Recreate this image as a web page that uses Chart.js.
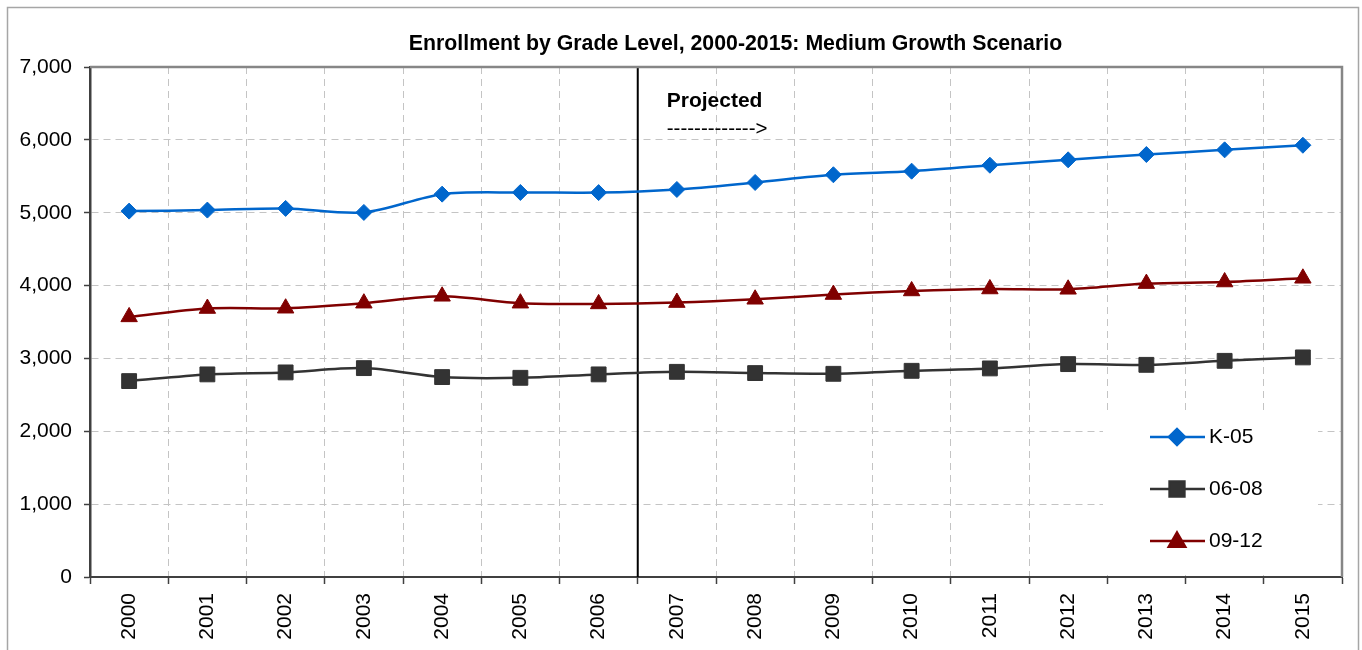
<!DOCTYPE html>
<html>
<head>
<meta charset="utf-8">
<script src="https://cdn.jsdelivr.net/npm/chart.js@4/dist/chart.umd.min.js"></script>
<style>
  html, body { margin: 0; padding: 0; background: #fff; }
  canvas { display: block; }
</style>
</head>
<body>
<canvas id="c" width="1362" height="650"></canvas>
<script>
const categories = ['2000','2001','2002','2003','2004','2005','2006','2007','2008','2009','2010','2011','2012','2013','2014','2015'];
const k05   = [5022, 5036, 5059, 5004, 5255, 5278, 5276, 5319, 5415, 5521, 5570, 5652, 5726, 5799, 5863, 5926];
const g0608 = [2689, 2781, 2808, 2867, 2744, 2734, 2781, 2816, 2799, 2789, 2830, 2863, 2922, 2912, 2967, 3014];
const g0912 = [3570, 3685, 3689, 3758, 3853, 3758, 3748, 3767, 3812, 3877, 3926, 3953, 3949, 4027, 4049, 4100];
const seriesLabels = ['K-05', '06-08', '09-12'];
const yTicks = [0, 1000, 2000, 3000, 4000, 5000, 6000, 7000];
const titleText = 'Enrollment by Grade Level, 2000-2015: Medium Growth Scenario';
const projectedText = 'Projected';
const arrowText = '------------->';
const projectionStartIndex = 7; // first projected year (2007)

const FONT = '"Liberation Sans", Arial, sans-serif';
Chart.defaults.font.family = FONT;
Chart.defaults.color = '#000';

const decorPlugin = {
  id: 'decor',
  beforeDatasetsDraw(chart) {
    const ctx = chart.ctx, a = chart.chartArea, x = chart.scales.x;
    ctx.save();
    // legend background (covers grid)
    ctx.fillStyle = '#fff';
    ctx.fillRect(1103, 414, 215, 161);
    // projection divider
    const px = (x.getPixelForValue(projectionStartIndex - 1) + x.getPixelForValue(projectionStartIndex)) / 2;
    ctx.strokeStyle = '#000';
    ctx.lineWidth = 2;
    ctx.beginPath();
    ctx.moveTo(px, a.top);
    ctx.lineTo(px, a.bottom);
    ctx.stroke();
    // top and right plot border
    ctx.strokeStyle = '#868686';
    ctx.lineWidth = 2.5;
    ctx.beginPath();
    ctx.moveTo(a.left, a.top);
    ctx.lineTo(a.right, a.top);
    ctx.lineTo(a.right, a.bottom);
    ctx.stroke();
    // projected annotation
    ctx.fillStyle = '#000';
    ctx.textAlign = 'left';
    ctx.textBaseline = 'middle';
    ctx.font = 'bold 21px ' + FONT;
    ctx.fillText(projectedText, px + 29, 101);
    ctx.font = '20.5px ' + FONT;
    ctx.fillText(arrowText, px + 29, 129);
    ctx.restore();
  },
  afterDraw(chart) {
    const ctx = chart.ctx;
    ctx.save();
    // outer frame
    ctx.strokeStyle = '#a6a6a6';
    ctx.lineWidth = 1.5;
    ctx.strokeRect(7.5, 7.5, 1351, 700);
    // title
    ctx.fillStyle = '#000';
    ctx.font = 'bold 21.3px ' + FONT;
    ctx.textAlign = 'center';
    ctx.textBaseline = 'middle';
    ctx.fillText(titleText, 735.5, 44);
    // legend
    const ys = [437, 489, 541];
    chart.data.datasets.forEach((ds, i) => {
      const y = ys[i];
      ctx.strokeStyle = ds.borderColor;
      ctx.lineWidth = ds.borderWidth;
      ctx.beginPath();
      ctx.moveTo(1150, y);
      ctx.lineTo(1205, y);
      ctx.stroke();
      ctx.fillStyle = ds.pointBackgroundColor;
      ctx.strokeStyle = ds.pointBorderColor;
      Chart.helpers.drawPoint(ctx, {
        pointStyle: ds.pointStyle, radius: ds.pointRadius, rotation: 0, borderWidth: 1
      }, 1177, y + (ds.pointStyle === 'triangle' ? 1 : 0));
      ctx.fillStyle = '#000';
      ctx.font = '21px ' + FONT;
      ctx.textAlign = 'left';
      ctx.textBaseline = 'middle';
      ctx.fillText(ds.label, 1209, y);
    });
    ctx.restore();
  }
};

const mk = (label, data, color, style, r) => ({
  label, data,
  borderColor: color, backgroundColor: color,
  pointBackgroundColor: color, pointBorderColor: color,
  borderWidth: 2.5, pointStyle: style, pointRadius: r, pointHoverRadius: r,
  pointBorderWidth: 1, tension: 0.3, fill: false
});

new Chart(document.getElementById('c'), {
  type: 'line',
  data: {
    labels: categories,
    datasets: [
      mk(seriesLabels[0], k05, '#0066CC', 'rectRot', 8),
      mk(seriesLabels[1], g0608, '#333333', 'rect', 10.5),
      mk(seriesLabels[2], g0912, '#800000', 'triangle', 9.5)
    ]
  },
  options: {
    responsive: false,
    animation: false,
    events: [],
    layout: { padding: { top: 67, right: 20, left: 0, bottom: 0 } },
    plugins: { legend: { display: false }, title: { display: false }, tooltip: { enabled: false } },
    scales: {
      x: {
        offset: true,
        afterFit(s) { s.height = 73; },
        grid: {
          offset: true, color: '#c4c4c4', lineWidth: 1,
          tickLength: 7, tickColor: '#404040', tickWidth: 1.5, tickBorderDash: []
        },
        border: { color: '#404040', width: 2, dash: [7, 5] },
        ticks: { minRotation: 90, maxRotation: 90, padding: 9, autoSkip: false, font: { size: 21 }, color: '#000' }
      },
      y: {
        min: 0, max: 7000,
        afterFit(s) { s.width = 90; },
        afterBuildTicks(s) { s.ticks = yTicks.map(v => ({ value: v })); },
        grid: {
          color: '#c4c4c4', lineWidth: 1,
          tickLength: 6, tickColor: '#404040', tickWidth: 1.5, tickBorderDash: []
        },
        border: { color: '#404040', width: 2.5, dash: [7, 5] },
        ticks: {
          padding: 12, font: { size: 21 }, color: '#000',
          callback: v => Number(v).toLocaleString('en-US')
        }
      }
    }
  },
  plugins: [decorPlugin]
});
</script>
</body>
</html>
